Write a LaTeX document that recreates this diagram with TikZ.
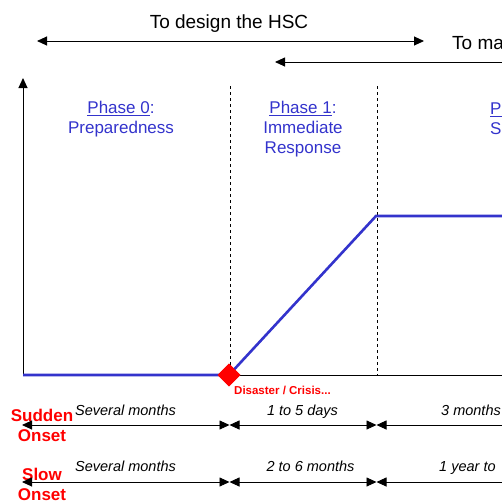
\documentclass[tikz,border=0pt]{standalone}
\usepackage{fontspec}
\setmainfont{Liberation Sans}
\usetikzlibrary{arrows.meta, positioning, shapes.geometric}

\definecolor{phaseblue}{RGB}{51,51,204}
\definecolor{crisisred}{RGB}{255,0,0}

\tikzset{
    tip/.tip={Triangle[length=10pt,width=9pt]},
    span/.style={line width=0.9pt, tip-tip},
    leftspan/.style={line width=0.9pt, tip-},
    axis/.style={line width=1pt},
    phaseline/.style={line width=0.7pt, dash pattern=on 3pt off 3pt},
    curve/.style={phaseblue, line width=2.6pt},
    crisis/.style={diamond, fill=crisisred, inner sep=0pt, minimum size=23pt},
    toptext/.style={font=\fontsize{19}{22}\selectfont, inner sep=0pt, anchor=base},
    phase/.style={phaseblue, font=\fontsize{17}{20}\selectfont, align=center, inner sep=0pt},
    onset/.style={crisisred, font=\bfseries\fontsize{17}{20}\selectfont, align=center, inner sep=0pt},
    duration/.style={font=\itshape\fontsize{14.5}{17}\selectfont, inner sep=0pt, anchor=base},
}

\begin{document}
\begin{tikzpicture}[x=1pt, y=-1pt]
    \useasboundingbox (0,0) rectangle (502,501);
    \clip (0,0) rectangle (502,501);

    % aims at the top
    \node[toptext] (design) at (229,28) {To design the HSC};
    \coordinate (d0) at (37,41);
    \coordinate (d1) at (424,41);
    \draw[span] (d0) -- (d1);

    \node[toptext, anchor=base west] (manage) at (452,49) {To ma};
    \coordinate (m0) at (275,62);
    \coordinate (m1) at (520,62);
    \draw[leftspan] (m0) -- (m1);

    % axes
    \coordinate (O) at (23,375);
    \coordinate (ytop) at (23,78);
    \coordinate (xend) at (520,375);
    \draw[axis, -tip] (O) -- (ytop);
    \draw[axis] (O) -- (xend);

    % phase boundaries
    \foreach \x in {230, 377} {
        \draw[phaseline] (\x,86) -- (\x,375);
    }

    % phase labels
    \node[phase] (ph0) at (121,119) {\underline{Phase 0}:\\Preparedness};
    \node[phase] (ph1) at (303,129) {\underline{Phase 1}:\\Immediate\\Response};
    \node[phase, align=left, anchor=west] (ph2) at (490,119) {\underline{P}\\S};

    % level of activity
    \coordinate (c0) at (23,375);
    \coordinate (c1) at (376,216);
    \coordinate (c2) at (520,216);
    \node[crisis] (crisis) at (229,375) {};
    \draw[curve] (c0) -- (crisis.center) -- (c1) -- (c2);
    \node[crisis] at (crisis.center) {};
    \node[crisisred, font=\bfseries\fontsize{11.5}{13}\selectfont, inner sep=0pt, anchor=base west]
        (crisislabel) at (234,394) {Disaster / Crisis...};

    % durations
    \node[onset] (sudden) at (42,425) {Sudden\\Onset};
    \node[onset] (slow) at (42,484) {Slow\\Onset};

    \foreach \row/\y in {s/425, w/482} {
        \coordinate (\row0) at (22,\y);
        \coordinate (\row1) at (229.5,\y);
        \coordinate (\row2) at (376.5,\y);
        \coordinate (\row3) at (520,\y);
        \draw[span] (\row0) -- (\row1);
        \draw[span] (\row1) -- (\row2);
        \draw[span] (\row2) -- (\row3);
    }

    \node[duration] (s01) at (125.5,415) {Several months};
    \node[duration] (s12) at (302.5,415) {1 to 5 days};
    \node[duration, anchor=base west] (s23) at (441,415) {3 months};
    \node[duration] (w01) at (125.5,471) {Several months};
    \node[duration] (w12) at (310.5,471) {2 to 6 months};
    \node[duration, anchor=base west] (w23) at (439,471) {1 year to};
\end{tikzpicture}
\end{document}
